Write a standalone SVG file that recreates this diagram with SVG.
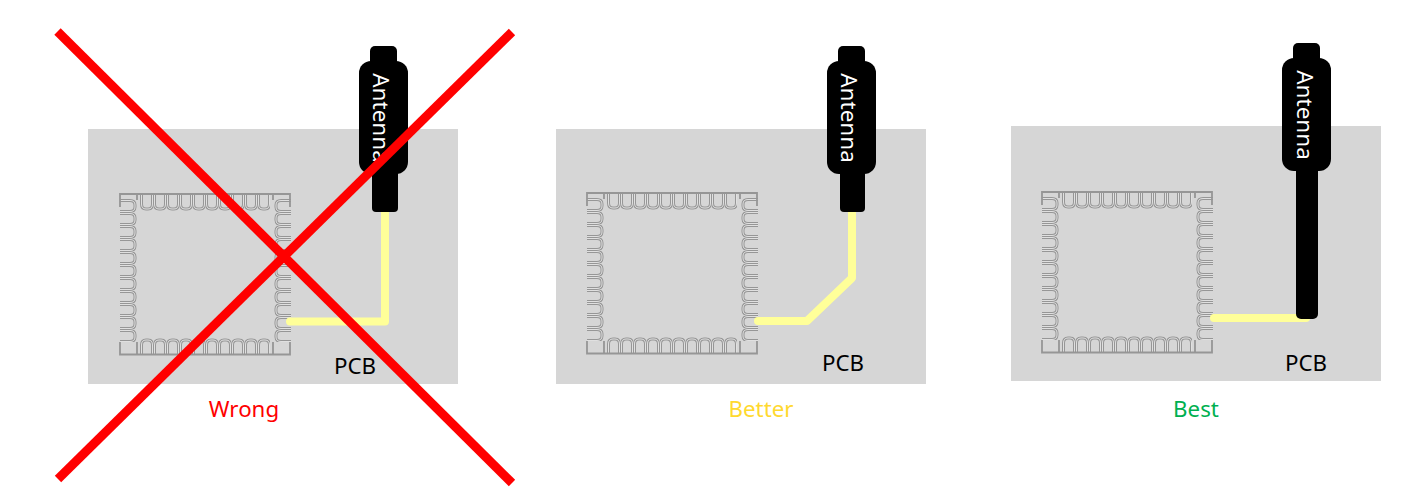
<svg xmlns="http://www.w3.org/2000/svg" width="1405" height="498" viewBox="0 0 1405 498">
<style>
.pcb{fill:#d6d6d6}
.ant{fill:#000}
.trace{fill:none;stroke:#ffff99;stroke-width:8;stroke-linecap:round;stroke-linejoin:round}
.lbl{font-family:"Noto Sans","Open Sans",sans-serif;font-size:22.300px;text-anchor:middle}
.antt{font-family:"Noto Sans","Open Sans",sans-serif;font-size:22.500px;fill:#fff;text-anchor:middle}
.pad{fill:none;stroke:#969696;stroke-width:3}
.padi{fill:none;stroke:#e0e0e0;stroke-width:1}
.x{stroke:#ff0000;stroke-width:9;stroke-linecap:butt}
</style>
<defs>
<g id="pt"><path class="pad" d="M1.500 0V10Q1.500 15 6 15H8Q12.500 15 12.500 10V0"/><path class="padi" d="M1.500 0V10Q1.500 15 6 15H8Q12.500 15 12.500 10V0"/></g>
<g id="pl"><path class="pad" d="M0 1.500H10Q15 1.500 15 6V8Q15 12.500 10 12.500H0"/><path class="padi" d="M0 1.500H10Q15 1.500 15 6V8Q15 12.500 10 12.500H0"/></g>
<pattern id="pT" width="13" height="17" patternUnits="userSpaceOnUse" x="21" y="1"><use href="#pt"/></pattern>
<pattern id="pB" width="13" height="17" patternUnits="userSpaceOnUse" x="21" y="145"><use href="#pt" transform="matrix(1 0 0 -1 0 17)"/></pattern>
<pattern id="pL" width="17" height="13" patternUnits="userSpaceOnUse" x="1" y="6"><use href="#pl"/></pattern>
<pattern id="pR" width="17" height="13" patternUnits="userSpaceOnUse" x="155" y="6"><use href="#pl" transform="matrix(-1 0 0 1 17 0)"/></pattern>
<filter id="soft" x="-5%" y="-5%" width="110%" height="110%"><feGaussianBlur stdDeviation=".4"/></filter>
<g id="module" filter="url(#soft)">
<rect x="21" y="1" width="130" height="17" fill="url(#pT)"/>
<rect x="21" y="145" width="130" height="17" fill="url(#pB)"/>
<rect x="1" y="6" width="17" height="143" fill="url(#pL)"/>
<rect x="155" y="6" width="17" height="143" fill="url(#pR)"/>
<path fill="none" stroke="#969696" stroke-width="1.800" d="M1 14V1H171V14M1 149V161.500H171V149M18 1V7M154 1V7M18 161V149M154 161V149"/>
</g>
<g id="antennaHead">
<rect class="ant" x="11" y="0" width="27" height="30" rx="5"/>
<rect class="ant" x="0" y="15" width="49" height="113" rx="12"/>
</g>
</defs>

<g id="wrong-panel">
<rect class="pcb" x="88" y="129" width="370" height="255"/>
<use href="#module" x="119" y="193"/>
<text class="lbl" x="355" y="374">PCB</text>
<text class="lbl" x="244" y="417" fill="#ff0000">Wrong</text>
</g>
<g id="better-panel">
<rect class="pcb" x="556" y="129" width="370" height="255"/>
<use href="#module" x="586" y="192"/>
<text class="lbl" x="843" y="371">PCB</text>
<text class="lbl" x="761" y="417" fill="#ffd92f">Better</text>
</g>
<g id="best-panel">
<rect class="pcb" x="1011" y="126" width="370" height="255"/>
<use href="#module" x="1041" y="191"/>
<text class="lbl" x="1306" y="371">PCB</text>
<text class="lbl" x="1196" y="417" fill="#00b050">Best</text>
</g>

<g id="connectors">
<path class="trace" d="M290 321.500H385V212"/>
<path class="trace" d="M758 321H807L852 278V212"/>
<path class="trace" d="M1214 318H1306"/>
</g>

<g id="wrong-antenna">
<rect class="ant" x="372" y="165" width="26" height="47" rx="4"/>
<use href="#antennaHead" x="359" y="46"/>
<text class="antt" transform="translate(373 118) rotate(90)">Antenna</text>
</g>
<g id="better-antenna">
<rect class="ant" x="840" y="165" width="25" height="47" rx="4"/>
<use href="#antennaHead" x="827" y="46"/>
<text class="antt" transform="translate(841 118) rotate(90)">Antenna</text>
</g>
<g id="best-antenna">
<rect class="ant" x="1296" y="165" width="22" height="154" rx="5"/>
<use href="#antennaHead" x="1282" y="43"/>
<text class="antt" transform="translate(1297 115) rotate(90)">Antenna</text>
</g>

<g id="cross">
<line class="x" x1="57.500" y1="31.500" x2="512" y2="483"/>
<line class="x" x1="512" y1="32" x2="58" y2="479"/>
</g>
</svg>
